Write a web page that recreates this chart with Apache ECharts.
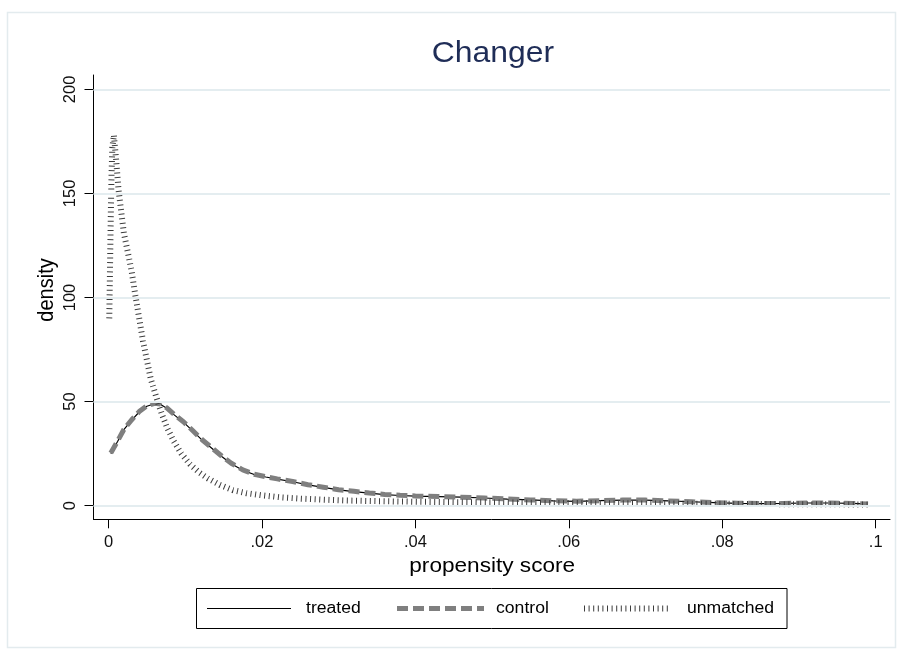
<!DOCTYPE html>
<html><head><meta charset="utf-8">
<script src="https://cdn.jsdelivr.net/npm/echarts@6/dist/echarts.min.js"></script>
<style>html,body{margin:0;padding:0;background:#fff}#c{width:905px;height:655px}</style>
</head><body><div id="c"></div>
<script>
// ---- data ----
const titleText = 'Changer';
const xTitle = 'propensity score';
const yTitle = 'density';
const seriesNames = ['treated', 'control', 'unmatched'];
const xTicks = [0, 0.02, 0.04, 0.06, 0.08, 0.1];
const xTickLabels = ['0', '.02', '.04', '.06', '.08', '.1'];
const yTicks = [0, 50, 100, 150, 200];
const yTickLabels = ['0', '50', '100', '150', '200'];

const treatedX = [0.0003,0.0012,0.002,0.003,0.004,0.005,0.006,0.0068,0.0076,0.0086,0.0098,0.011,0.0122,0.0135,0.0148,0.016,0.0175,0.019,0.0205,0.022,0.024,0.026,0.028,0.03,0.032,0.034,0.036,0.038,0.04,0.043,0.046,0.049,0.052,0.055,0.058,0.061,0.064,0.067,0.07,0.073,0.076,0.079,0.082,0.085,0.088,0.091,0.094,0.097,0.099];
const treatedY = [25,31,36.5,41,45,47.8,49,48.6,46.8,43.5,40,35.8,31.5,27.5,23.5,20.2,17,15,13.8,12.8,11.5,10,8.8,7.6,6.8,6,5.3,4.9,4.6,4.4,4.1,3.7,3.2,2.8,2.3,2.1,2.4,2.7,2.7,2.3,1.9,1.5,1.1,1.0,1.1,1.3,1.3,1.1,0.8];

const controlX = [0.0003,0.0012,0.002,0.003,0.004,0.005,0.006,0.0068,0.0076,0.0086,0.0098,0.011,0.0122,0.0135,0.0148,0.016,0.0175,0.019,0.0205,0.022,0.024,0.026,0.028,0.03,0.032,0.034,0.036,0.038,0.04,0.043,0.046,0.049,0.052,0.055,0.058,0.061,0.064,0.067,0.07,0.073,0.076,0.079,0.082,0.085,0.088,0.091,0.094,0.097,0.099];
const controlY = [25.3,31.2,36.6,41.2,45.2,48,49.2,48.8,47,43.7,40.2,36,31.7,27.7,23.7,20.4,17.2,15.1,13.9,12.9,11.6,10.1,8.9,7.7,6.9,6.1,5.4,5,4.7,4.4,4.1,3.7,3.2,2.8,2.4,2.2,2.4,2.7,2.7,2.3,1.9,1.5,1.2,1.1,1.1,1.3,1.3,1.1,0.8];

const unmatchedX = [0.0001,0.0002,0.0003,0.0004,0.0005,0.0007,0.001,0.0013,0.0017,0.002,0.0025,0.003,0.0035,0.004,0.0045,0.005,0.0055,0.006,0.0065,0.007,0.0077,0.0085,0.0095,0.0106,0.0118,0.013,0.0145,0.0162,0.018,0.02,0.0225,0.025,0.028,0.031,0.035,0.04,0.045,0.05,0.055,0.06,0.065,0.07,0.075,0.08,0.085,0.09,0.095,0.099];
const unmatchedY = [90,115,140,160,172,178,166,152,140,131,122,113,101,90,79,70,61,55,49,43.5,37,31,25,20,16,13,10,7.5,6,5,4,3.4,2.9,2.5,2.2,1.9,1.7,1.6,1.4,1.3,1.2,1.1,1.0,0.9,0.8,0.7,0.65,0.6];

const zip = (xs, ys) => xs.map((x, i) => [x, ys[i]]);

const FONT = 'Liberation Sans, Arial, sans-serif';
const chart = echarts.init(document.getElementById('c'), null, {renderer: 'canvas'});

chart.setOption({
  animation: false,
  backgroundColor: '#ffffff',
  grid: {left: 93.5, right: 15, top: 75, bottom: 135.7, containLabel: false},
  xAxis: {
    type: 'value',
    min: -0.001956, max: 0.101864,
    splitLine: {show: false},
    axisLine: {show: true, onZero: false, lineStyle: {color: '#000', width: 1}},
    axisTick: {show: true, length: 9, customValues: xTicks, lineStyle: {color: '#000', width: 1}},
    axisLabel: {
      customValues: xTicks, margin: 15, color: '#111', fontFamily: FONT, fontSize: 16.5,
      formatter: v => { const i = xTicks.findIndex(t => Math.abs(t - v) < 1e-9); return i >= 0 ? xTickLabels[i] : ''; }
    }
  },
  yAxis: {
    type: 'value',
    min: -6.53, max: 206.9,
    splitLine: {show: false},
    axisLine: {show: true, onZero: false, lineStyle: {color: '#000', width: 1}},
    axisTick: {show: true, length: 9, customValues: yTicks, lineStyle: {color: '#000', width: 1}},
    axisLabel: {
      customValues: yTicks, rotate: 90, margin: 15, color: '#111', fontFamily: FONT, fontSize: 16.5,
      formatter: v => { const i = yTicks.findIndex(t => Math.abs(t - v) < 1e-9); return i >= 0 ? yTickLabels[i] : ''; }
    }
  },
  series: [
    {
      name: 'gridlines', type: 'line', data: [], z: 1, silent: true,
      markLine: {
        silent: true, symbol: ['none', 'none'], label: {show: false},
        lineStyle: {color: '#e4edf0', width: 2, type: 'solid'},
        data: yTicks.map(v => ({yAxis: v}))
      }
    },
    {
      name: seriesNames[0], type: 'line', data: zip(treatedX, treatedY), z: 2,
      showSymbol: false, symbol: 'none', smooth: false,
      lineStyle: {color: '#000000', width: 1.2}
    },
    {
      name: seriesNames[1], type: 'line', data: zip(controlX, controlY), z: 3,
      showSymbol: false, symbol: 'none',
      lineStyle: {color: '#7f7f7f', width: 5, type: [11, 5], cap: 'butt'}
    },
    {
      name: seriesNames[2], type: 'line', data: zip(unmatchedX, unmatchedY), z: 4,
      showSymbol: false, symbol: 'none',
      lineStyle: {color: '#3c3c3c', width: 6, type: [1, 3.6], cap: 'butt'}
    }
  ],
  graphic: [
    {type: 'rect', silent: true, shape: {x: 7.5, y: 12.5, width: 888, height: 635},
     style: {fill: 'none', stroke: '#e3ebee', lineWidth: 1.5}},
    {type: 'text', x: 493, y: 53.5, scaleX: 1.1, silent: true,
     style: {text: titleText, fontFamily: FONT, fontSize: 29, fill: '#1f2d57', align: 'center', verticalAlign: 'middle'}},
    {type: 'text', x: 492.2, y: 566, scaleX: 1.13, silent: true,
     style: {text: xTitle, fontFamily: FONT, fontSize: 20, fill: '#000', align: 'center', verticalAlign: 'middle'}},
    {type: 'text', x: 47, y: 290, rotation: Math.PI / 2, scaleY: 1.13, silent: true,
     style: {text: yTitle, fontFamily: FONT, fontSize: 20, fill: '#000', align: 'center', verticalAlign: 'middle'}},
    // legend
    {type: 'rect', silent: true, shape: {x: 196.5, y: 588.5, width: 590.5, height: 40},
     style: {fill: '#fff', stroke: '#000', lineWidth: 1}},
    {type: 'line', silent: true, shape: {x1: 207, y1: 608.5, x2: 291, y2: 608.5},
     style: {stroke: '#000', lineWidth: 1.2}},
    {type: 'line', silent: true, shape: {x1: 397, y1: 608.5, x2: 484, y2: 608.5},
     style: {stroke: '#7f7f7f', lineWidth: 5, lineDash: [11, 5]}},
    {type: 'line', silent: true, shape: {x1: 584, y1: 608.5, x2: 668, y2: 608.5},
     style: {stroke: '#3c3c3c', lineWidth: 6, lineDash: [1, 3.6]}},
    {type: 'text', x: 306, y: 609, scaleX: 1.1, silent: true,
     style: {text: seriesNames[0], fontFamily: FONT, fontSize: 16, fill: '#000', align: 'left', verticalAlign: 'middle'}},
    {type: 'text', x: 496, y: 609, scaleX: 1.1, silent: true,
     style: {text: seriesNames[1], fontFamily: FONT, fontSize: 16, fill: '#000', align: 'left', verticalAlign: 'middle'}},
    {type: 'text', x: 687, y: 609, scaleX: 1.1, silent: true,
     style: {text: seriesNames[2], fontFamily: FONT, fontSize: 16, fill: '#000', align: 'left', verticalAlign: 'middle'}}
  ]
});
</script>
</body></html>
